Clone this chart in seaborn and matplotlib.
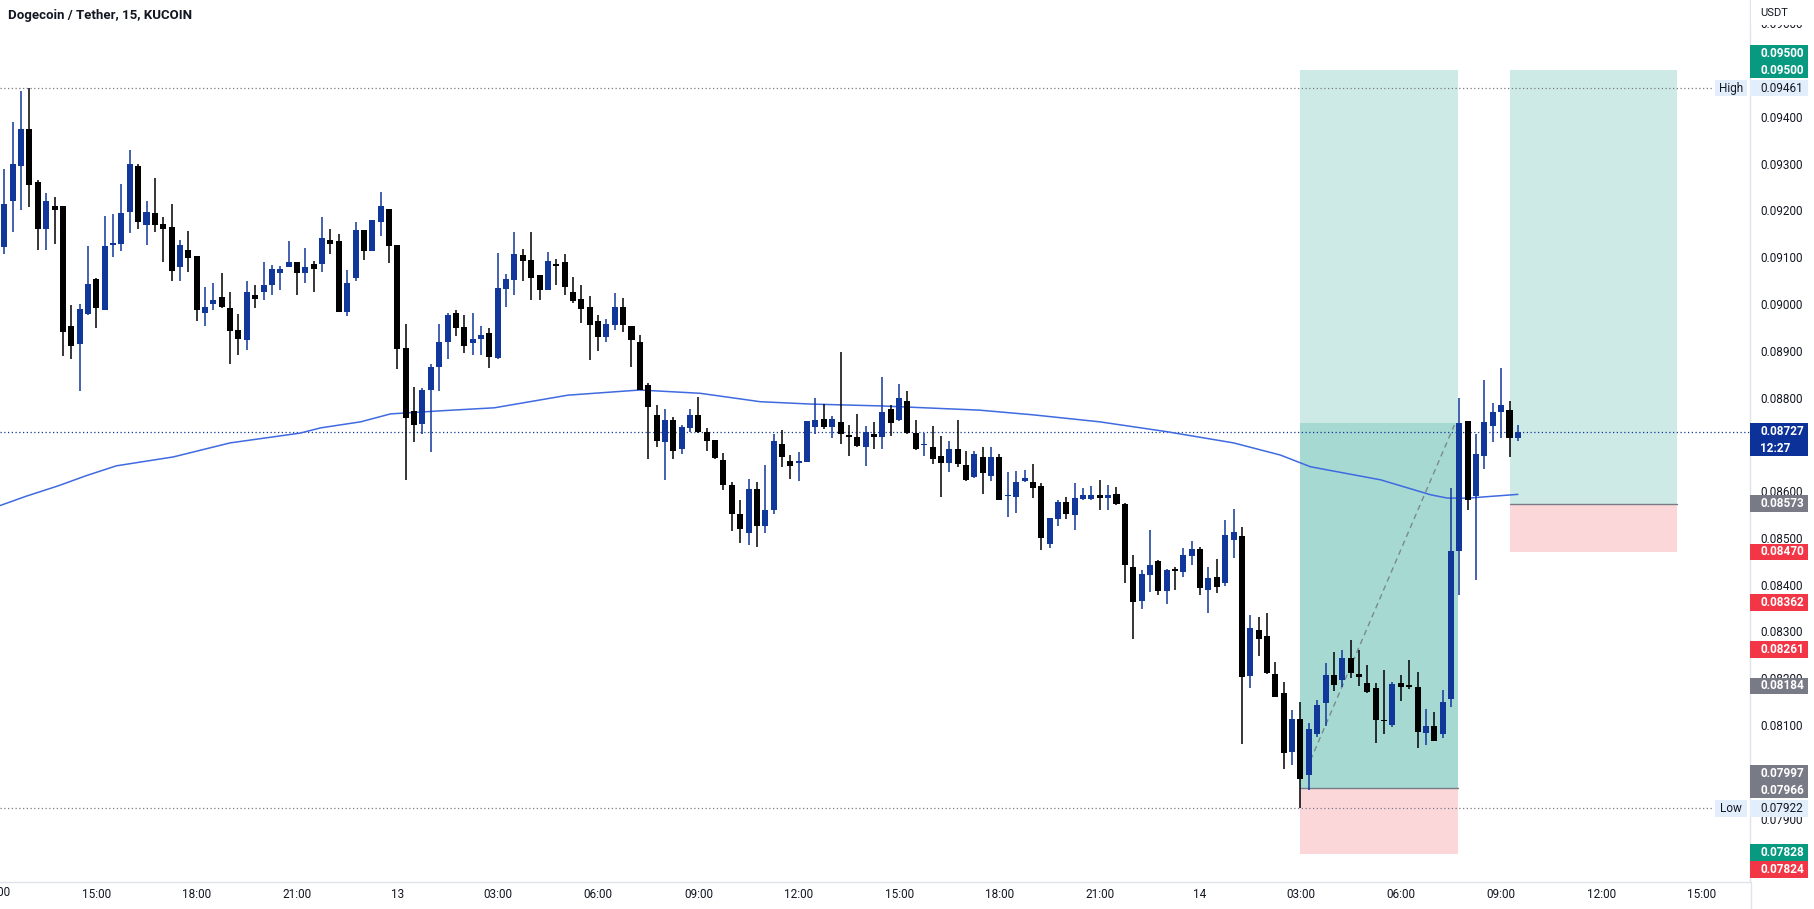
import numpy as np
import pandas as pd
import matplotlib
matplotlib.use("Agg")
import matplotlib.pyplot as plt
from matplotlib.patches import Rectangle
from matplotlib.lines import Line2D
import seaborn as sns

# 15 minute candles, time in hours since 12:00 on the 12th
first_hour = 0.25
opens = [0.09122, 0.09219, 0.09295, 0.09374, 0.09261, 0.09160, 0.09210, 0.09210, 0.08953, 0.08914,
         0.08979, 0.09053, 0.08987, 0.09126, 0.09129, 0.09197, 0.09295, 0.09169, 0.09194, 0.09171,
         0.09164, 0.09078, 0.09115, 0.09102, 0.08981, 0.09000, 0.09014, 0.08991, 0.08944, 0.08922,
         0.09018, 0.09026, 0.09041, 0.09067, 0.09078, 0.09090, 0.09067, 0.09085, 0.09086, 0.09136,
         0.09134, 0.08983, 0.09056, 0.09158, 0.09112, 0.09174, 0.09202, 0.09126, 0.08905, 0.08771,
         0.08743, 0.08815, 0.08866, 0.08919, 0.08981, 0.08950, 0.08917, 0.08926, 0.08937, 0.08884,
         0.09032, 0.09051, 0.09105, 0.09094, 0.09062, 0.09030, 0.09085, 0.09089, 0.09025, 0.09010,
         0.08993, 0.08964, 0.08930, 0.08955, 0.08993, 0.08953, 0.08919, 0.08827, 0.08763, 0.08704,
         0.08752, 0.08690, 0.08734, 0.08763, 0.08727, 0.08709, 0.08666, 0.08614, 0.08550, 0.08510,
         0.08605, 0.08525, 0.08560, 0.08701, 0.08664, 0.08659, 0.08663, 0.08738, 0.08754, 0.08736,
         0.08747, 0.08720, 0.08716, 0.08695, 0.08722, 0.08716, 0.08775, 0.08752, 0.08793, 0.08724,
         0.08698, 0.08695, 0.08676, 0.08661, 0.08689, 0.08656, 0.08631, 0.08672, 0.08632, 0.08672,
         0.08590, 0.08588, 0.08622, 0.08619, 0.08611, 0.08487, 0.08540, 0.08576, 0.08548, 0.08583,
         0.08583, 0.08591, 0.08586, 0.08593, 0.08572, 0.08437, 0.08366, 0.08421, 0.08451, 0.08387,
         0.08431, 0.08428, 0.08462, 0.08476, 0.08389, 0.08416, 0.08404, 0.08496, 0.08504, 0.08204,
         0.08303, 0.08290, 0.08209, 0.08169, 0.08043, 0.08114, 0.07993, 0.08081, 0.08148, 0.08207,
         0.08196, 0.08243, 0.08209, 0.08191, 0.08179, 0.08110, 0.08100, 0.08189, 0.08186, 0.08181,
         0.08084, 0.08098, 0.08082, 0.08155, 0.08471, 0.08750, 0.08590, 0.08675, 0.08740, 0.08768,
         0.08773, 0.08713]
highs = [0.09288, 0.09389, 0.09455, 0.09461, 0.09265, 0.09236, 0.09229, 0.09210, 0.08998, 0.09000,
         0.09124, 0.09055, 0.09188, 0.09192, 0.09256, 0.09329, 0.09299, 0.09220, 0.09268, 0.09186,
         0.09214, 0.09137, 0.09156, 0.09102, 0.09037, 0.09045, 0.09065, 0.09026, 0.08979, 0.09050,
         0.09040, 0.09090, 0.09083, 0.09082, 0.09134, 0.09090, 0.09120, 0.09092, 0.09185, 0.09159,
         0.09149, 0.09073, 0.09174, 0.09158, 0.09179, 0.09240, 0.09202, 0.09126, 0.08957, 0.08822,
         0.08820, 0.08872, 0.08957, 0.08981, 0.08986, 0.08976, 0.08980, 0.08953, 0.08948, 0.09108,
         0.09064, 0.09154, 0.09117, 0.09154, 0.09062, 0.09110, 0.09096, 0.09106, 0.09057, 0.09040,
         0.09017, 0.08976, 0.08967, 0.09024, 0.09013, 0.08953, 0.08934, 0.08830, 0.08785, 0.08775,
         0.08758, 0.08741, 0.08775, 0.08802, 0.08734, 0.08709, 0.08681, 0.08620, 0.08580, 0.08625,
         0.08620, 0.08655, 0.08722, 0.08731, 0.08677, 0.08684, 0.08750, 0.08798, 0.08786, 0.08761,
         0.08898, 0.08741, 0.08765, 0.08739, 0.08747, 0.08843, 0.08785, 0.08829, 0.08814, 0.08752,
         0.08725, 0.08739, 0.08718, 0.08706, 0.08752, 0.08686, 0.08686, 0.08695, 0.08695, 0.08679,
         0.08640, 0.08642, 0.08645, 0.08658, 0.08617, 0.08543, 0.08582, 0.08588, 0.08618, 0.08606,
         0.08611, 0.08624, 0.08613, 0.08608, 0.08575, 0.08464, 0.08431, 0.08516, 0.08453, 0.08433,
         0.08437, 0.08478, 0.08493, 0.08480, 0.08437, 0.08454, 0.08539, 0.08562, 0.08524, 0.08335,
         0.08330, 0.08339, 0.08234, 0.08193, 0.08132, 0.08150, 0.08105, 0.08154, 0.08232, 0.08257,
         0.08261, 0.08282, 0.08261, 0.08229, 0.08189, 0.08218, 0.08193, 0.08207, 0.08239, 0.08213,
         0.08134, 0.08129, 0.08176, 0.08606, 0.08800, 0.08750, 0.08722, 0.08837, 0.08788, 0.08862,
         0.08793, 0.08741]
lows = [0.09106, 0.09154, 0.09201, 0.09208, 0.09115, 0.09115, 0.09128, 0.08889, 0.08882, 0.08813,
        0.08976, 0.08949, 0.08986, 0.09100, 0.09112, 0.09151, 0.09159, 0.09126, 0.09154, 0.09090,
        0.09050, 0.09050, 0.09068, 0.08964, 0.08953, 0.08988, 0.08991, 0.08872, 0.08891, 0.08902,
        0.08992, 0.09008, 0.09018, 0.09030, 0.09078, 0.09018, 0.09044, 0.09026, 0.09068, 0.09106,
        0.08983, 0.08975, 0.09050, 0.09094, 0.09112, 0.09145, 0.09088, 0.08861, 0.08624, 0.08704,
        0.08723, 0.08684, 0.08813, 0.08882, 0.08932, 0.08896, 0.08891, 0.08891, 0.08864, 0.08882,
        0.08994, 0.09018, 0.09050, 0.09008, 0.09008, 0.09030, 0.09040, 0.09019, 0.09001, 0.08960,
        0.08880, 0.08900, 0.08919, 0.08944, 0.08939, 0.08866, 0.08815, 0.08668, 0.08695, 0.08624,
        0.08668, 0.08679, 0.08727, 0.08725, 0.08686, 0.08669, 0.08602, 0.08515, 0.08490, 0.08485,
        0.08480, 0.08510, 0.08550, 0.08651, 0.08625, 0.08622, 0.08663, 0.08721, 0.08732, 0.08713,
        0.08700, 0.08676, 0.08694, 0.08654, 0.08689, 0.08689, 0.08718, 0.08750, 0.08721, 0.08688,
        0.08674, 0.08658, 0.08588, 0.08640, 0.08651, 0.08622, 0.08627, 0.08594, 0.08622, 0.08581,
        0.08545, 0.08553, 0.08620, 0.08586, 0.08474, 0.08479, 0.08525, 0.08540, 0.08517, 0.08581,
        0.08581, 0.08560, 0.08560, 0.08570, 0.08404, 0.08283, 0.08348, 0.08385, 0.08378, 0.08359,
        0.08389, 0.08417, 0.08442, 0.08378, 0.08340, 0.08383, 0.08397, 0.08456, 0.08060, 0.08180,
        0.08248, 0.08209, 0.08159, 0.08006, 0.08015, 0.07922, 0.07961, 0.08075, 0.08097, 0.08173,
        0.08181, 0.08200, 0.08184, 0.08168, 0.08061, 0.08080, 0.08095, 0.08152, 0.08177, 0.08052,
        0.08058, 0.08067, 0.08072, 0.08139, 0.08378, 0.08560, 0.08411, 0.08647, 0.08704, 0.08713,
        0.08672, 0.08706]
closes = [0.09214, 0.09300, 0.09374, 0.09254, 0.09160, 0.09219, 0.09201, 0.08939, 0.08910, 0.08989,
          0.09043, 0.08992, 0.09124, 0.09130, 0.09194, 0.09299, 0.09176, 0.09196, 0.09169, 0.09161,
          0.09071, 0.09126, 0.09099, 0.08988, 0.08993, 0.09008, 0.08993, 0.08943, 0.08926, 0.09026,
          0.09011, 0.09040, 0.09075, 0.09075, 0.09090, 0.09065, 0.09079, 0.09075, 0.09140, 0.09127,
          0.08983, 0.09045, 0.09158, 0.09112, 0.09179, 0.09209, 0.09124, 0.08904, 0.08757, 0.08741,
          0.08815, 0.08865, 0.08918, 0.08976, 0.08948, 0.08911, 0.08925, 0.08934, 0.08886, 0.09033,
          0.09053, 0.09106, 0.09092, 0.09056, 0.09030, 0.09092, 0.09080, 0.09037, 0.09007, 0.08989,
          0.08954, 0.08930, 0.08957, 0.08993, 0.08955, 0.08923, 0.08815, 0.08780, 0.08708, 0.08752,
          0.08686, 0.08736, 0.08763, 0.08727, 0.08708, 0.08670, 0.08614, 0.08550, 0.08520, 0.08605,
          0.08525, 0.08560, 0.08706, 0.08672, 0.08654, 0.08665, 0.08750, 0.08752, 0.08738, 0.08754,
          0.08721, 0.08715, 0.08697, 0.08726, 0.08715, 0.08768, 0.08746, 0.08800, 0.08724, 0.08690,
          0.08699, 0.08668, 0.08661, 0.08689, 0.08657, 0.08624, 0.08679, 0.08639, 0.08672, 0.08582,
          0.08591, 0.08619, 0.08629, 0.08606, 0.08499, 0.08542, 0.08576, 0.08551, 0.08585, 0.08591,
          0.08591, 0.08586, 0.08591, 0.08572, 0.08442, 0.08362, 0.08423, 0.08442, 0.08387, 0.08431,
          0.08430, 0.08463, 0.08476, 0.08394, 0.08414, 0.08396, 0.08506, 0.08513, 0.08202, 0.08308,
          0.08285, 0.08211, 0.08161, 0.08040, 0.08114, 0.07985, 0.08092, 0.08143, 0.08207, 0.08186,
          0.08243, 0.08212, 0.08202, 0.08170, 0.08110, 0.08109, 0.08188, 0.08181, 0.08181, 0.08086,
          0.08098, 0.08067, 0.08150, 0.08472, 0.08745, 0.08581, 0.08679, 0.08747, 0.08768, 0.08784,
          0.08714, 0.08727]

# moving average
ma_hours = [0.0, 0.9, 1.85, 2.7, 3.6, 5.3, 7.0, 8.1, 9.1, 9.7, 10.9, 11.8, 13.4, 14.9, 17.1,
            19.25, 21.05, 22.85, 24.35, 26.45, 29.4, 31.0, 33.0, 35.0, 37.0, 38.4, 39.3, 41.4,
            42.9, 43.4, 44.0, 45.5]
ma_values = [0.08566, 0.08589, 0.08611, 0.08633, 0.08654, 0.08673, 0.08703, 0.08714, 0.08724,
             0.08735, 0.08748, 0.08765, 0.08772, 0.08778, 0.08805, 0.08816, 0.08809, 0.08791,
             0.08786, 0.08782, 0.08773, 0.08763, 0.08748, 0.08727, 0.08703, 0.08677, 0.08652,
             0.08624, 0.08592, 0.08585, 0.08585, 0.08593]

# long position tools: start, end (hours), target, entry, stop, reached
positions = [
    dict(t0=39.0, t1=43.7, target=0.09500, entry=0.07966, stop=0.07824, reached=0.08745),
    dict(t0=45.25, t1=50.25, target=0.09500, entry=0.08573, stop=0.08470, reached=None),
]
trade_line = ([39.3, 43.6], [0.08025, 0.08741])

high_price, low_price, last_price = 0.09461, 0.07922, 0.08727

tick_hours = list(range(3, 52, 3))
tick_labels = ["15:00", "18:00", "21:00", "13", "03:00", "06:00", "09:00", "12:00", "15:00",
               "18:00", "21:00", "14", "03:00", "06:00", "09:00", "12:00", "15:00"]
price_ticks = [0.079, 0.080, 0.081, 0.082, 0.083, 0.084, 0.085, 0.086, 0.087, 0.088,
               0.089, 0.090, 0.091, 0.092, 0.093, 0.094, 0.096]

BLUE = "#12379a"
BLACK = "#000000"
TEXT = "#131722"
GREEN = "#089981"
RED = "#f23645"
GRAY = "#787b86"

sns.set_theme(style="white")
plt.rcParams['font.family'] = ['Roboto', 'DejaVu Sans']

W, H = 1814, 909
fig = plt.figure(figsize=(W / 100, H / 100), dpi=100)
ax = fig.add_axes([0, 27 / H, 1750 / W, 882 / H])

ymin, ymax = 0.077647, 0.096494
xmin, xmax = 0.12, 52.44
ax.set_xlim(xmin, xmax)
ax.set_ylim(ymin, ymax)
px = (ymax - ymin) / 882  # data units per pixel

df = pd.DataFrame({"open": opens, "high": highs, "low": lows, "close": closes})
df["hour"] = first_hour + 0.25 * np.arange(len(df))
colors = np.where(df["close"] >= df["open"], BLUE, BLACK)

# position boxes
for pos in positions:
    w = pos["t1"] - pos["t0"]
    ax.add_patch(Rectangle((pos["t0"], pos["entry"]), w, pos["target"] - pos["entry"],
                           facecolor="#cdeae6", edgecolor="none", zorder=1))
    ax.add_patch(Rectangle((pos["t0"], pos["stop"]), w, pos["entry"] - pos["stop"],
                           facecolor="#fcd7da", edgecolor="none", zorder=1))
    if pos["reached"] is not None:
        ax.add_patch(Rectangle((pos["t0"], pos["entry"]), w, pos["reached"] - pos["entry"],
                               facecolor="#a5d9d2", edgecolor="none", zorder=1.1))
    ax.plot([pos["t0"], pos["t1"]], [pos["entry"]] * 2, color=GRAY, lw=1, zorder=1.2)
ax.plot(*trade_line, color="#7a8a8c", lw=1, ls=(0, (4, 3)), zorder=1.3)

# dotted reference lines
ax.axhline(high_price, xmax=1712 / 1750, color=GRAY, lw=0.9, ls=(0, (1, 2)), zorder=1.5)
ax.axhline(low_price, xmax=1712 / 1750, color=GRAY, lw=0.9, ls=(0, (1, 2)), zorder=1.5)
ax.axhline(last_price, color=BLUE, lw=0.9, ls=(0, (1, 2)), zorder=1.5)

# moving average
sns.lineplot(x=ma_hours, y=ma_values, ax=ax, color="#3f6ae0", lw=1.1, zorder=2)

# candles
ax.vlines(df["hour"], df["low"], df["high"], colors=colors, lw=1.1, zorder=3)
body_low = np.minimum(df["open"], df["close"])
body_h = np.maximum((df["close"] - df["open"]).abs(), 1.2 * px)
ax.bar(df["hour"], body_h, bottom=body_low, width=0.18, color=colors, linewidth=0, zorder=4)

# axes styling
for s in ["top", "left"]:
    ax.spines[s].set_visible(False)
for s in ["right", "bottom"]:
    ax.spines[s].set_color("#e0e3eb")
    ax.spines[s].set_linewidth(1)
fig.add_artist(Line2D([1750.5 / W] * 2, [0, 27 / H], color="#e0e3eb", lw=1))

ax.yaxis.tick_right()
ax.set_yticks(price_ticks)
ax.set_yticklabels([f"{v:.5f}" for v in price_ticks])
ax.set_xticks(tick_hours)
ax.set_xticklabels(tick_labels)
ax.tick_params(axis="y", length=0, pad=7.3, labelsize=8.5, labelcolor=TEXT)
ax.tick_params(axis="x", length=0, pad=4.5, labelsize=8.5, labelcolor=TEXT)
for lab in ax.get_yticklabels():
    lab.set_horizontalalignment("left")
ax.text(0, -4.5 / 882, "12:00", transform=ax.get_xaxis_transform(), ha="center", va="top",
        fontsize=8.5, color=TEXT, clip_on=False)
ax.set_xlabel("")
ax.set_ylabel("")
ax.grid(False)

ytr = ax.get_yaxis_transform()


def tag(value, text, face, fg="white", weight="bold", shift=0, x0=1.0, width=58):
    n = text.count("\n") + 1
    hgt = n * 16.5 * px
    yc = value + shift * px
    ax.add_patch(Rectangle((x0, yc - hgt / 2), width / 1750, hgt, transform=ytr,
                           facecolor=face, edgecolor="none", clip_on=False, zorder=20))
    ax.text(x0 + 10 / 1750 if x0 >= 1.0 else x0 + width / 1750 / 2, yc, text, transform=ytr,
            ha="left" if x0 >= 1.0 else "center", va="center", fontsize=8.5, color=fg,
            weight=weight, linespacing=1.4, clip_on=False, zorder=21)


# white cover over the clipped top tick, then the unit
ax.add_patch(Rectangle((1.0005, 1 - 25 / 882), 64 / 1750, 25 / 882, transform=ax.transAxes,
                       facecolor="white", edgecolor="none", clip_on=False, zorder=19))
ax.text(1 + 10 / 1750, 1 - 13 / 882, "USDT", transform=ax.transAxes, ha="left", va="center",
        fontsize=8, color=TEXT, clip_on=False, zorder=21)

tag(0.09500, "0.09500\n0.09500", GREEN, shift=8)
tag(high_price, "0.09461", "#e3eefc", fg=TEXT, weight="normal")
tag(high_price, "High", "#e3eefc", fg=TEXT, weight="normal", x0=1715 / 1750, width=32)
tag(last_price, "0.08727\n12:27", "#0c3299", shift=-8)
tag(0.08573, "0.08573", GRAY)
tag(0.08470, "0.08470", RED)
tag(0.08362, "0.08362", RED)
tag(0.08261, "0.08261", RED)
tag(0.08184, "0.08184", GRAY)
tag(0.07966, "0.07997\n0.07966", GRAY, shift=6)
tag(low_price, "0.07922", "#e3eefc", fg=TEXT, weight="normal")
tag(low_price, "Low", "#e3eefc", fg=TEXT, weight="normal", x0=1715 / 1750, width=32)
tag(0.07828, "0.07828", GREEN)
tag(0.07828, "0.07824", RED, shift=-17)

ax.text(8 / 1750, 1 - 16 / 882, "Dogecoin / Tether, 15, KUCOIN", transform=ax.transAxes,
        ha="left", va="center", fontsize=9.5, weight="bold", color=TEXT)

fig.savefig("out.png", dpi=100, facecolor="white")
